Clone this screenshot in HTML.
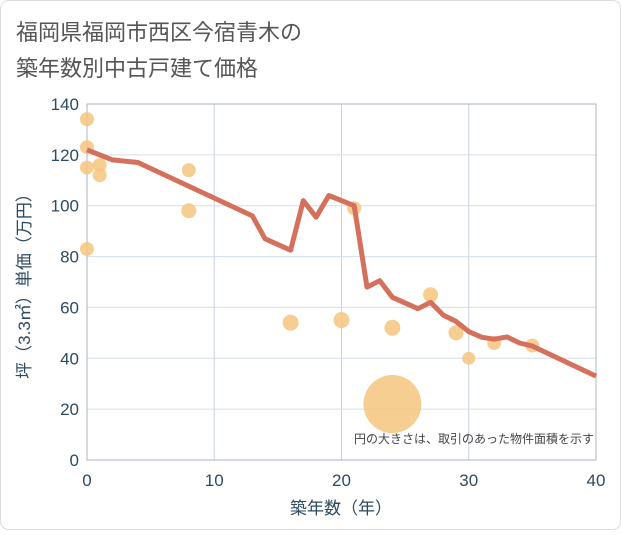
<!DOCTYPE html>
<html><head><meta charset="utf-8"><style>
body{margin:0;background:#fff;font-family:"Liberation Sans","Noto Sans CJK JP",sans-serif;}
#wrap{position:relative;width:621px;height:530px;}
</style></head><body>
<div id="wrap">
<svg id="chart" width="621" height="530">
<rect x="0.5" y="0.5" width="620" height="529" rx="8" fill="#fff" stroke="#ddd"/>
<text x="16" y="40" font-size="22" fill="#555" font-family="Liberation Sans, Noto Sans CJK JP, sans-serif">福岡県福岡市西区今宿青木の</text>
<text x="16" y="76" font-size="22" fill="#555" font-family="Liberation Sans, Noto Sans CJK JP, sans-serif">築年数別中古戸建て価格</text>
<g id="grid"></g>
<g id="axes"></g>
<g id="points"></g>
<g id="line"></g>
<text x="594" y="443" font-size="12" fill="#444" text-anchor="end" font-family="Liberation Sans, Noto Sans CJK JP, sans-serif">円の大きさは、取引のあった物件面積を示す</text>
<text x="341" y="514" font-size="17" fill="#2c4a60" text-anchor="middle" font-family="Liberation Sans, Noto Sans CJK JP, sans-serif">築年数（年）</text>
<text transform="translate(30,282) rotate(-90)" font-size="17" fill="#2c4a60" text-anchor="middle" font-family="Liberation Sans, Noto Sans CJK JP, sans-serif">坪（3.3㎡）単価（万円）</text>
</svg>
</div>
<script>
const xTicks=[0,10,20,30,40];
const yTicks=[0,20,40,60,80,100,120,140];
const lineYears=[0,2,3,4,13,14,16,17,18,19,21,22,23,24,26,27,28,29,30,31,32,33,34,35,40];
const lineValues=[122,118,117.5,117,96,87,82.5,102,95.5,104,100,68,70.5,64,59.5,62,57,54.5,50.5,48.3,47.5,48.4,46,44.8,33];
const ptYears=[0,0,0,1,1,8,8,0,16,20,21,24,27,29,30,32,35,24];
const ptValues=[134,123,115,116,112,114,98,83,54,55,99,52,65,50,40,46,45,22];
const ptSizes=[7,7,7,7,7,7,7.5,7,8,8,7,8,7.5,7.5,6.5,7,7,29];
const X0=87,X1=596,Y0=460,Y1=104;
const xs=v=>X0+(v-0)/40*(X1-X0);
const ys=v=>Y0-(v/140)*(Y0-Y1);
const NS="http://www.w3.org/2000/svg";
function mk(tag,attrs,parent){const e=document.createElementNS(NS,tag);for(const k in attrs)e.setAttribute(k,attrs[k]);parent.appendChild(e);return e;}
const grid=document.getElementById('grid'),axes=document.getElementById('axes');
xTicks.forEach(t=>{
 const l=mk('line',{x1:xs(t),x2:xs(t),y1:Y1,y2:Y0,stroke:'#c8d2de','stroke-width':1},grid);
 
 
 const tx=mk('text',{x:xs(t),y:486,'font-size':17,fill:'#2c4a60','text-anchor':'middle'},axes);
 tx.textContent=t;
 
 
});
yTicks.forEach(t=>{
 const l=mk('line',{x1:X0,x2:X1,y1:ys(t),y2:ys(t),stroke:'#d5dde8','stroke-width':1},grid);
 
 
 const tx=mk('text',{x:79,y:ys(t)+6,'font-size':17,fill:'#2c4a60','text-anchor':'end'},axes);
 tx.textContent=t;
 
 
});
const fr=mk('rect',{x:X0,y:Y1,width:X1-X0,height:Y0-Y1,fill:'none',stroke:'#aab4c0','stroke-width':1},axes);


const pg=document.getElementById('points');
ptYears.forEach((y,i)=>{
 const c=mk('circle',{cx:xs(y),cy:ys(ptValues[i]),r:ptSizes[i],fill:'#f5c57e','fill-opacity':0.85},pg);
 
 
});
const d=lineYears.map((y,i)=>(i?'L':'M')+xs(y).toFixed(1)+','+ys(lineValues[i]).toFixed(1)).join(' ');
const p=mk('path',{d:d,fill:'none',stroke:'#d4705c','stroke-width':5,'stroke-linejoin':'round'},document.getElementById('line'));


</script>
</body></html>
